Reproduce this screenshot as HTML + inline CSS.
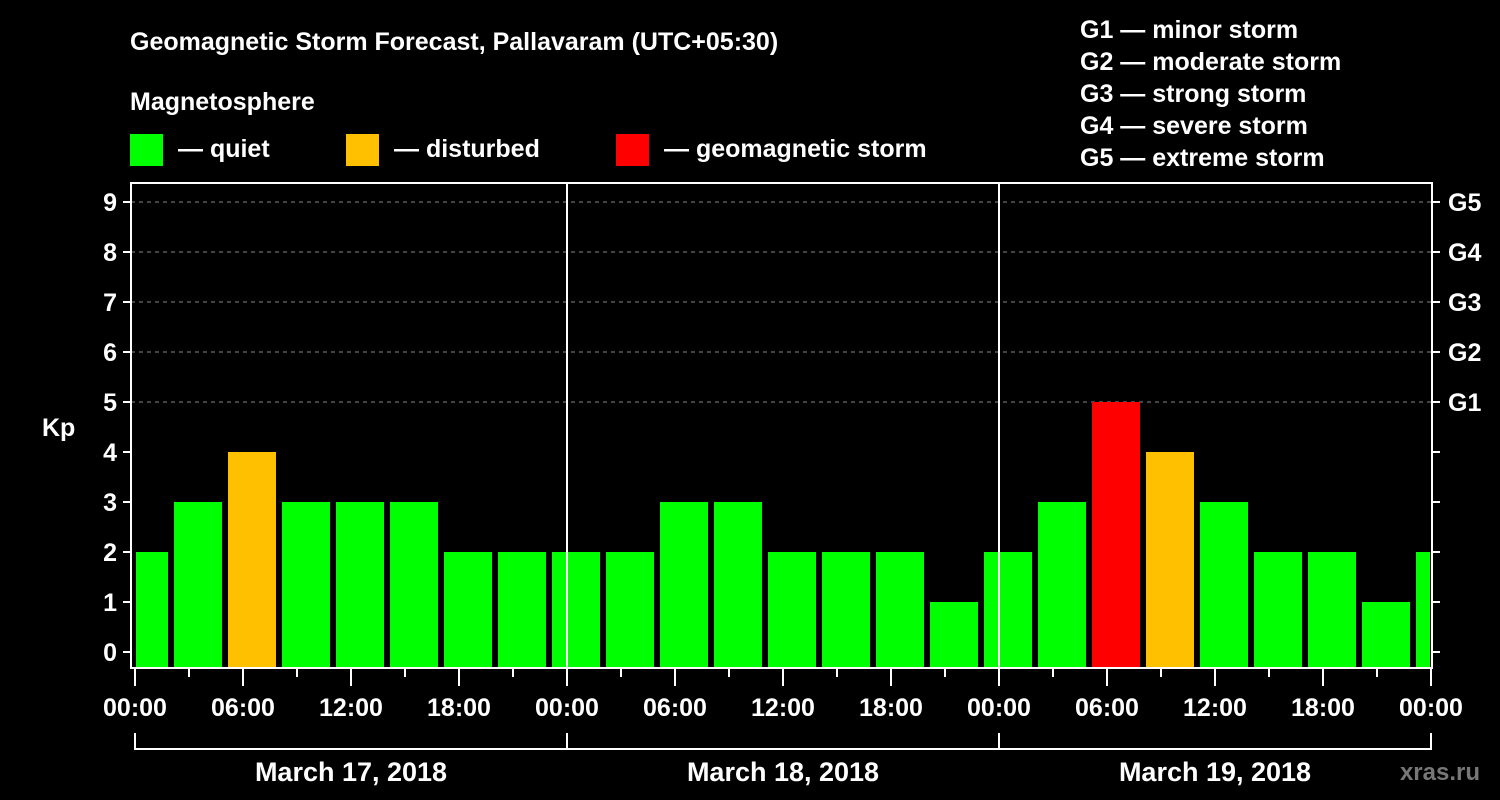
<!DOCTYPE html>
<html><head><meta charset="utf-8"><style>
body{margin:0;background:#000;}
svg{display:block;font-family:"Liberation Sans",Arial,sans-serif;font-weight:bold;}
</style></head><body>
<svg width="1500" height="800" viewBox="0 0 1500 800">
<rect width="1500" height="800" fill="#000"/>
<g fill="#fff" font-size="25">
<text x="130" y="50">Geomagnetic Storm Forecast, Pallavaram (UTC+05:30)</text>
<text x="130" y="110">Magnetosphere</text>
<text x="178" y="157">— quiet</text>
<text x="394" y="157">— disturbed</text>
<text x="664" y="157">— geomagnetic storm</text>
<text x="1080" y="38">G1 — minor storm</text>
<text x="1080" y="70">G2 — moderate storm</text>
<text x="1080" y="102">G3 — strong storm</text>
<text x="1080" y="134">G4 — severe storm</text>
<text x="1080" y="166">G5 — extreme storm</text>
<text x="42" y="436">Kp</text>
</g>
<rect x="130" y="134" width="33" height="32" fill="#00ff00"/>
<rect x="346" y="134" width="33" height="32" fill="#ffc000"/>
<rect x="616" y="134" width="33" height="32" fill="#ff0000"/>
<g id="grid"></g>
<g id="bars"></g>
<g id="axes"></g>
<text x="1480" y="780" fill="#777" font-size="24" text-anchor="end">xras.ru</text>
</svg>
<script>
const kpValues=[2,3,4,3,3,3,2,2,2,2,3,3,2,2,2,1,2,3,5,4,3,2,2,1,2];
const kpTicks=["0","1","2","3","4","5","6","7","8","9"];
const gLabels=["G1","G2","G3","G4","G5"];
const timeLabels=["00:00","06:00","12:00","18:00","00:00","06:00","12:00","18:00","00:00","06:00","12:00","18:00","00:00"];
const dateLabels=["March 17, 2018","March 18, 2018","March 19, 2018"];
const NS="http://www.w3.org/2000/svg";
const x0=135,x1=1430,pxPerHour=18;
const xs=h=>x0+h*pxPerHour;
const ys=k=>652-k*50;
function mk(tag,attrs,parent){const e=document.createElementNS(NS,tag);for(const k in attrs)e.setAttribute(k,attrs[k]);parent.appendChild(e);return e;}
const grid=document.getElementById('grid'),bars=document.getElementById('bars'),axes=document.getElementById('axes');
for(let k=5;k<=9;k++){const l=mk('line',{x1:131,x2:1432,y1:ys(k),y2:ys(k),stroke:'#888','stroke-dasharray':'4,4','stroke-width':1},grid);

}
kpValues.forEach((v,i)=>{let l=xs(3*i-5/6),r=l+48;l=Math.max(l,x0+1);r=Math.min(r,x1);
const c=v>=5?'#ff0000':(v>=4?'#ffc000':'#00ff00');
const b=mk('rect',{x:l,y:ys(v),width:r-l,height:668-ys(v),fill:c},bars);

});
// frame
const fr=mk('path',{d:'M131,183 H1432 V668 H131 Z',fill:'none',stroke:'#fff','stroke-width':2},axes);


[24,48].forEach(h=>{const l=mk('line',{x1:xs(h),x2:xs(h),y1:183,y2:668,stroke:'#fff','stroke-width':2},axes);

});
kpTicks.forEach((t,k)=>{mk('line',{x1:123,x2:131,y1:ys(k),y2:ys(k),stroke:'#fff','stroke-width':2},axes);
mk('line',{x1:1432,x2:1440,y1:ys(k),y2:ys(k),stroke:'#fff','stroke-width':2},axes);
const tx=mk('text',{x:117,y:ys(k)+9,fill:'#fff','font-size':25,'text-anchor':'end'},axes);tx.textContent=t;

});
gLabels.forEach((g,i)=>{const tx=mk('text',{x:1448,y:ys(5+i)+9,fill:'#fff','font-size':25},axes);tx.textContent=g;

});
for(let h=0;h<=72;h+=3){const major=h%6===0;mk('line',{x1:xs(h),x2:xs(h),y1:668,y2:major?686:677,stroke:'#fff','stroke-width':2},axes);}
timeLabels.forEach((t,i)=>{const tx=mk('text',{x:xs(i*6),y:716,fill:'#fff','font-size':25,'text-anchor':'middle'},axes);tx.textContent=t;

});
mk('line',{x1:x0,x2:x1,y1:749,y2:749,stroke:'#fff','stroke-width':2},axes);
for(let d=0;d<=3;d++)mk('line',{x1:xs(24*d),x2:xs(24*d),y1:733,y2:750,stroke:'#fff','stroke-width':2},axes);
dateLabels.forEach((t,d)=>{const tx=mk('text',{x:xs(24*d+12),y:781,fill:'#fff','font-size':27,'text-anchor':'middle'},axes);tx.textContent=t;

});
</script>
</body></html>
